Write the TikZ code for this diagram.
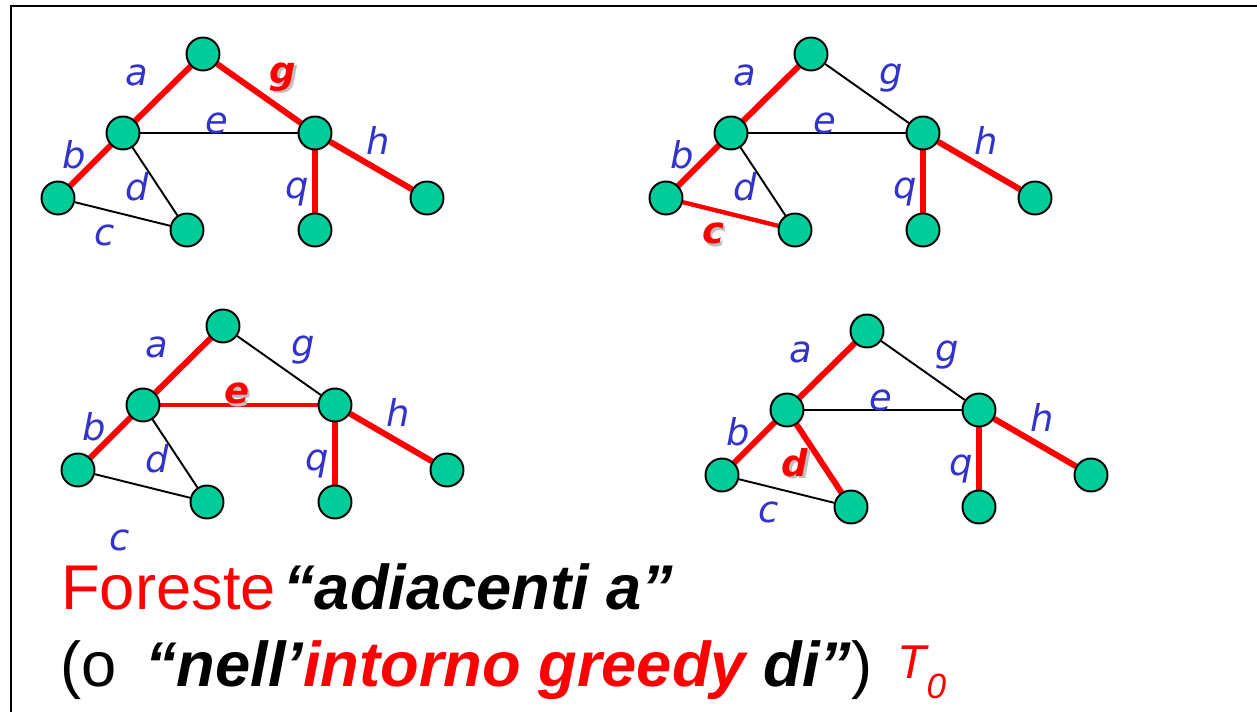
\documentclass[tikz,border=0pt]{standalone}
\usepackage{fontspec}
\setmainfont{Liberation Sans}
\newfontfamily\etichetta{DejaVu Sans}
\usetikzlibrary{positioning, backgrounds}

\definecolor{verdeacqua}{RGB}{0,204,153}
\definecolor{blu}{RGB}{51,51,204}

\newcommand{\lettera}[1]{#1}
\newcommand{\ombra}[1]{\makebox[0pt][l]{\kern1.4pt\raisebox{-1.4pt}{\textcolor{black!25}{#1}}}#1}

\tikzset{
  nodo/.style={circle, draw, line width=1.1pt, fill=verdeacqua, minimum size=0.66cm, inner sep=0pt},
  arco/.style={line width=1.1pt},
  albero/.style={red, line width=3.4pt},
  aggiunto/.style={red, line width=2.5pt},
  etic/.style={text=blu, inner sep=0pt, font=\etichetta\itshape\fontsize{21}{24}\selectfont},
  scelta/.style={text=red, font=\etichetta\bfseries\itshape\fontsize{21}{24}\selectfont,
    execute at begin node={\let\lettera\ombra}},
  arco g/.style={arco}, arco e/.style={arco}, arco d/.style={arco}, arco c/.style={arco},
  etic a/.style={}, etic b/.style={}, etic c/.style={}, etic d/.style={},
  etic e/.style={}, etic g/.style={}, etic h/.style={}, etic q/.style={},
}

% one copy of the graph, nodes named #1-...
\newcommand{\grafo}[1]{%
  \node[nodo] (#1-r) at (203,54) {};
  \node[nodo] (#1-l) at (123,133) {};
  \node[nodo] (#1-m) at (315,133) {};
  \node[nodo] (#1-bl) at (58,198) {};
  \node[nodo] (#1-bm) at (187,230) {};
  \node[nodo] (#1-q) at (315,230) {};
  \node[nodo] (#1-h) at (427,198) {};
  \begin{pgfonlayer}{background}
    \draw[albero] (#1-r) -- (#1-l);
    \draw[albero] (#1-l) -- (#1-bl);
    \draw[albero] (#1-m) -- (#1-q);
    \draw[albero] (#1-m) -- (#1-h);
    \draw[arco g] (#1-r) -- (#1-m);
    \draw[arco e] (#1-l) -- (#1-m);
    \draw[arco d] (#1-l) -- (#1-bm);
    \draw[arco c] (#1-bl) -- (#1-bm);
  \end{pgfonlayer}
  \node[etic, etic a] (#1-ea) at (137,75) {\lettera{a}};
  \node[etic, etic g] (#1-eg) at (283,78) {\lettera{g}};
  \node[etic, etic e] (#1-ee) at (217,123) {\lettera{e}};
  \node[etic, etic h] (#1-eh) at (378,140) {\lettera{h}};
  \node[etic, etic b] (#1-eb) at (74,155) {\lettera{b}};
  \node[etic, etic d] (#1-ed) at (137,187) {\lettera{d}};
  \node[etic, etic q] (#1-eq) at (297,192) {\lettera{q}};
  \node[etic, etic c] (#1-ec) at (105,235) {\lettera{c}};
}

\begin{document}
\begin{tikzpicture}[x=0.02cm, y=-0.02cm]
\useasboundingbox (0,0) rectangle (1257,712);
\draw[line width=1.1pt] (11,712) -- (11,6) -- (1257,6);

\begin{scope}[arco g/.style=albero, etic g/.style=scelta]
  \grafo{A}
\end{scope}
\begin{scope}[shift={(608,0)}, arco c/.style=aggiunto, etic c/.style=scelta]
  \grafo{B}
\end{scope}
\begin{scope}[shift={(20,272)}, arco e/.style=aggiunto, etic e/.style=scelta,
    etic c/.style={xshift=-0.1cm, yshift=-0.66cm}]
  \grafo{C}
\end{scope}
\begin{scope}[shift={(664,277)}, arco d/.style=albero, etic d/.style={scelta, xshift=-0.12cm}]
  \grafo{D}
\end{scope}

\node[anchor=base west, inner sep=0pt, font=\fontsize{36}{40}\selectfont] (riga1) at (61,609)
  {\textcolor{red}{Foreste}\hspace{0.12em}{\bfseries\itshape “adiacenti a”}};
\node[anchor=base west, inner sep=0pt, font=\fontsize{36}{40}\selectfont] (riga2) at (60,686)
  {(o\hspace{0.45em}{\bfseries\itshape “nell’\textcolor{red}{intorno greedy} di”})\hspace{0.4em}%
   \raisebox{4pt}{\color{red}\itshape\fontsize{27}{30}\selectfont T\raisebox{-11pt}{\fontsize{20}{24}\selectfont 0}}};
\end{tikzpicture}
\end{document}
